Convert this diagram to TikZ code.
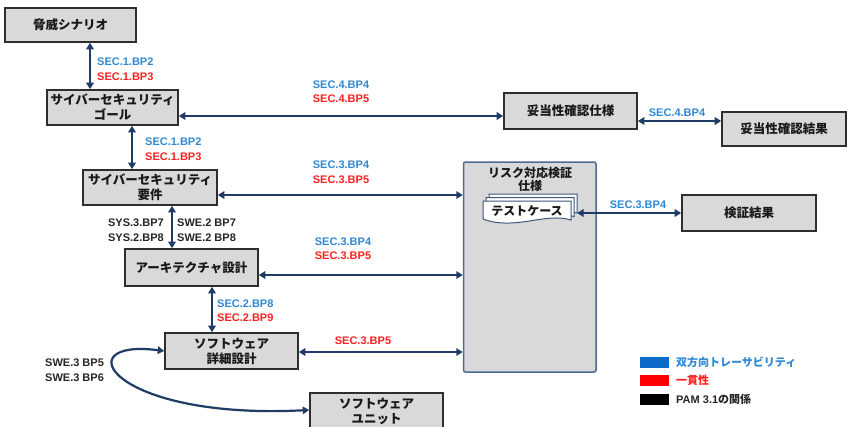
\documentclass[tikz,border=0pt]{standalone}
\usepackage{fontspec}
\setmainfont{Noto Sans CJK JP}
\newfontfamily\lat{Liberation Sans}
\usetikzlibrary{arrows.meta}
\definecolor{arrowc}{HTML}{1F3B66}
\definecolor{boxfill}{HTML}{D9D9D9}
\definecolor{boxdraw}{HTML}{2E2E2E}
\definecolor{lblue}{HTML}{2F88D4}
\definecolor{lred}{HTML}{FF1F1F}
\definecolor{legblue}{HTML}{0A6CC8}
\definecolor{lblack}{HTML}{262626}
\definecolor{riskdraw}{HTML}{4F6A92}
\definecolor{docdraw}{HTML}{3E5679}
\newcommand\docshape[2]{%
  \path[draw=docdraw, fill=white, line width=1pt, shift={(#1,#2)}]
    (483,201) -- (571,201) -- (571,220) .. controls (545,212) and (515,231) .. (483,219) -- cycle;}
\begin{document}
\begin{tikzpicture}[x=1pt,y=-1pt,
  box/.style={draw=boxdraw, line width=1.6pt, fill=boxfill, minimum height=35pt,
    inner sep=0pt, align=center, font=\fontsize{12.5}{15}\selectfont\bfseries, text=black!90},
  arr/.style={draw=arrowc, line width=2.2pt,
    {Triangle[length=6.5pt,width=7.5pt]}-{Triangle[length=6.5pt,width=7.5pt]}},
  lbl/.style={font=\lat\fontsize{11}{14.5}\selectfont\bfseries, align=left, inner sep=0pt},
  leg/.style={font=\fontsize{11}{13}\selectfont\bfseries, anchor=west, inner sep=0pt},
  ]
\clip (0,0) rectangle (848,426);
\fill[white] (0,0) rectangle (848,426);

% boxes
\node[box, minimum width=131pt, minimum height=34pt] (thr) at (70.5,25) {脅威シナリオ};
\node[box, minimum width=131pt] (goal) at (112.5,107.5) {サイバーセキュリティ\\ゴール};
\node[box, minimum width=133pt, minimum height=36pt] (vspec) at (570.5,111) {妥当性確認仕様};
\node[box, minimum width=124pt, minimum height=34pt] (vres) at (784,129) {妥当性確認結果};
\node[box, minimum width=134pt] (req) at (150,187.5) {サイバーセキュリティ\\要件};
\node[box, minimum width=133pt, minimum height=37pt] (arch) at (191.5,267.5) {アーキテクチャ設計};
\node[box, minimum width=133pt, minimum height=36pt] (det) at (231.5,351) {ソフトウェア\\詳細設計};
\node[box, minimum width=133pt, minimum height=36pt] (unit) at (376.5,411) {ソフトウェア\\ユニット};
\node[box, minimum width=134pt, minimum height=36pt] (kres) at (749,213) {検証結果};
\node[draw=riskdraw, fill=boxfill, line width=1.5pt, rounded corners=2pt,
  minimum width=132.5pt, minimum height=210pt, inner sep=0pt] (risk) at (529.75,267) {};
\node[align=center, inner sep=0pt, font=\fontsize{12}{13}\selectfont\bfseries, text=black!90]
  (risktitle) at (530,179) {リスク対応検証\\仕様};

% test case document stack
\docshape{6}{-7}
\docshape{3}{-3.5}
\docshape{0}{0}
\node[inner sep=0pt, font=\fontsize{12}{14}\selectfont\bfseries, text=black!90] (tc) at (527,211) {テストケース};
\coordinate (tcR) at (577,213);

% helper coordinates
\coordinate (xa) at (90,0);
\coordinate (xb) at (132,0);
\coordinate (xc) at (172,0);
\coordinate (xd) at (212,0);
\coordinate (ya) at (0,116);
\coordinate (yb) at (0,195);
\coordinate (yc) at (0,275);
\coordinate (yd) at (0,352);
\coordinate (ye) at (0,121);
\coordinate (yf) at (0,410);

% connectors
\draw[arr] (thr.south -| xa) -- (goal.north -| xa);
\draw[arr] (goal.south -| xb) -- (req.north -| xb);
\draw[arr] (req.south -| xc) -- (arch.north -| xc);
\draw[arr] (arch.south -| xd) -- (det.north -| xd);
\draw[arr] (goal.east |- ya) -- (vspec.west |- ya);
\draw[arr] (vspec.east |- ye) -- (vres.west |- ye);
\draw[arr] (req.east |- yb) -- (risk.west |- yb);
\draw[arr] (arch.east |- yc) -- (risk.west |- yc);
\draw[arr] (det.east |- yd) -- (risk.west |- yd);
\draw[arr] (tcR) -- (kres.west |- tcR);
\draw[arr] (det.west) .. controls (65,338) and (110,420) .. (unit.west |- yf);

% labels
\node[lbl, anchor=west] (l1) at (97,69) {\textcolor{lblue}{SEC.1.BP2}\\\textcolor{lred}{SEC.1.BP3}};
\node[lbl, anchor=west] (l2) at (145,149) {\textcolor{lblue}{SEC.1.BP2}\\\textcolor{lred}{SEC.1.BP3}};
\node[lbl, anchor=east, align=right, text=lblack] (l3) at (164,230) {SYS.3.BP7\\SYS.2.BP8};
\node[lbl, anchor=west, text=lblack] (l4) at (177,230) {SWE.2 BP7\\SWE.2 BP8};
\node[lbl, anchor=west] (l5) at (217,310.5) {\textcolor{lblue}{SEC.2.BP8}\\\textcolor{lred}{SEC.2.BP9}};
\node[lbl, align=center] (l6) at (341,91.5) {\textcolor{lblue}{SEC.4.BP4}\\\textcolor{lred}{SEC.4.BP5}};
\node[lbl, align=center] (l7) at (341,172) {\textcolor{lblue}{SEC.3.BP4}\\\textcolor{lred}{SEC.3.BP5}};
\node[lbl, align=center] (l8) at (343,248.5) {\textcolor{lblue}{SEC.3.BP4}\\\textcolor{lred}{SEC.3.BP5}};
\node[lbl, text=lred] (l9) at (363,341) {SEC.3.BP5};
\node[lbl, text=lblue] (l10) at (677,113) {SEC.4.BP4};
\node[lbl, text=lblue] (l11) at (638,205) {SEC.3.BP4};
\node[lbl, anchor=west, text=lblack] (l12) at (45,370) {SWE.3 BP5\\SWE.3 BP6};

% legend
\fill[legblue] (640,357) rectangle (669,368);
\fill[red] (640,375) rectangle (669,386);
\fill[black] (640,394) rectangle (669,405);
\node[leg, text=lblue] (lg1) at (676,362.5) {双方向トレーサビリティ};
\node[leg, text=lred] (lg2) at (676,380.5) {一貫性};
\node[leg, text=lblack] (lg3) at (676,399.5) {{\lat PAM 3.1}の関係};
\end{tikzpicture}
\end{document}
